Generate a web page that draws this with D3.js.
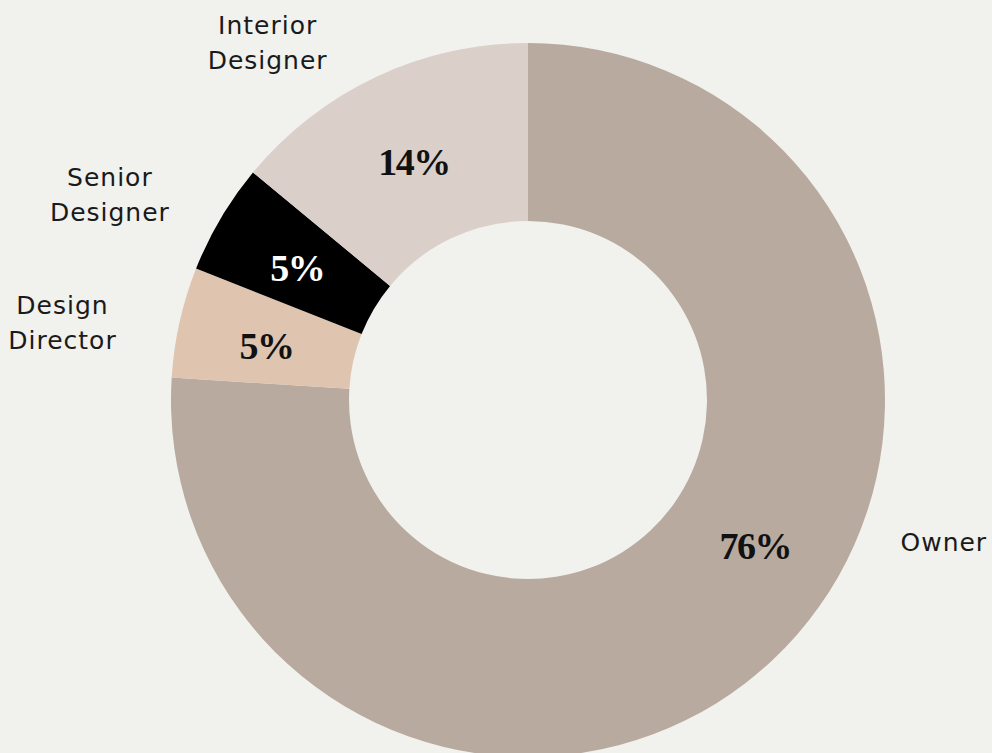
<!DOCTYPE html>
<html>
<head>
<meta charset="utf-8">
<script src="https://cdn.jsdelivr.net/npm/d3@7"></script>
<style>
  html, body { margin: 0; padding: 0; background: #f1f1ed; }
  svg { display: block; }
</style>
</head>
<body>
<svg id="chart" width="992" height="753"></svg>
<script>
// Roles and their share of respondents (percent)
const categories = ["Owner", "Design Director", "Senior Designer", "Interior Designer"];
const shares = [76, 5, 5, 14];
const sliceColors = ["#b8aa9f", "#dfc4b0", "#000000", "#dacfc9"];
const pctColors = ["#111111", "#111111", "#ffffff", "#111111"];
const labelLines = [["Owner"], ["Design", "Director"], ["Senior", "Designer"], ["Interior", "Designer"]];

const width = 992, height = 753;
const cx = 528, cy = 400;
const outerR = 357, innerR = 179;

// Placement of the outside role labels (degrees clockwise from 12 o'clock, distance from centre)
const outsidePlacement = {
  "Owner": { angle: 108.8, r: 440, anchor: "start", dx: -44 },
  "Design Director": { angle: 279.5, r: 472, anchor: "middle", dx: 0 },
  "Senior Designer": { angle: 296.2, r: 466, anchor: "middle", dx: 0 },
  "Interior Designer": { angle: 324, r: 443, anchor: "middle", dx: 0 }
};
// Percentage labels sit on the ring centreline; the large slice's label is nudged round
const pctAngleShift = { "Owner": -14.8 };

const data = categories.map((c, i) => ({ cat: c, value: shares[i], color: sliceColors[i], pctColor: pctColors[i], lines: labelLines[i] }));

const svg = d3.select("#chart");
const g = svg.append("g").attr("transform", `translate(${cx},${cy})`);

const pie = d3.pie().value(d => d.value).sort(null);
const arc = d3.arc().innerRadius(innerR).outerRadius(outerR);
const arcs = pie(data);

g.selectAll("path.slice")
  .data(arcs)
  .join("path")
  .attr("class", "slice")
  .attr("d", arc)
  .attr("fill", d => d.data.color);

const polar = (deg, r) => {
  const a = deg * Math.PI / 180;
  return [r * Math.sin(a), -r * Math.cos(a)];
};

// Percentage labels
const midR = (innerR + outerR) / 2;
g.selectAll("text.pct")
  .data(arcs)
  .join("text")
  .attr("class", "pct")
  .each(function(d) {
    const mid = (d.startAngle + d.endAngle) / 2 * 180 / Math.PI + (pctAngleShift[d.data.cat] || 0);
    const [x, y] = polar(mid, midR);
    d3.select(this).attr("x", x).attr("y", y + 4);
  })
  .attr("text-anchor", "middle")
  .attr("dominant-baseline", "central")
  .attr("font-family", "'Liberation Serif', 'DejaVu Serif', serif")
  .attr("font-weight", "bold")
  .attr("font-size", 38)
  .attr("letter-spacing", -1.5)
  .attr("fill", d => d.data.pctColor)
  .text(d => d.data.value + "%");

// Outside role labels
const lineH = 35;
g.selectAll("text.role")
  .data(arcs)
  .join("text")
  .attr("class", "role")
  .each(function(d) {
    const p = outsidePlacement[d.data.cat];
    const [x, y] = polar(p.angle, p.r);
    const t = d3.select(this)
      .attr("text-anchor", p.anchor)
      .attr("font-family", "'DejaVu Sans', sans-serif")
      .attr("font-size", 25)
      .attr("letter-spacing", 1)
      .attr("fill", "#1a1a1a");
    const n = d.data.lines.length;
    d.data.lines.forEach((ln, i) => {
      t.append("tspan")
        .attr("x", x + p.dx)
        .attr("y", y + 1 + (i - (n - 1) / 2) * lineH)
        .attr("dominant-baseline", "central")
        .text(ln);
    });
  });
</script>
</body>
</html>
